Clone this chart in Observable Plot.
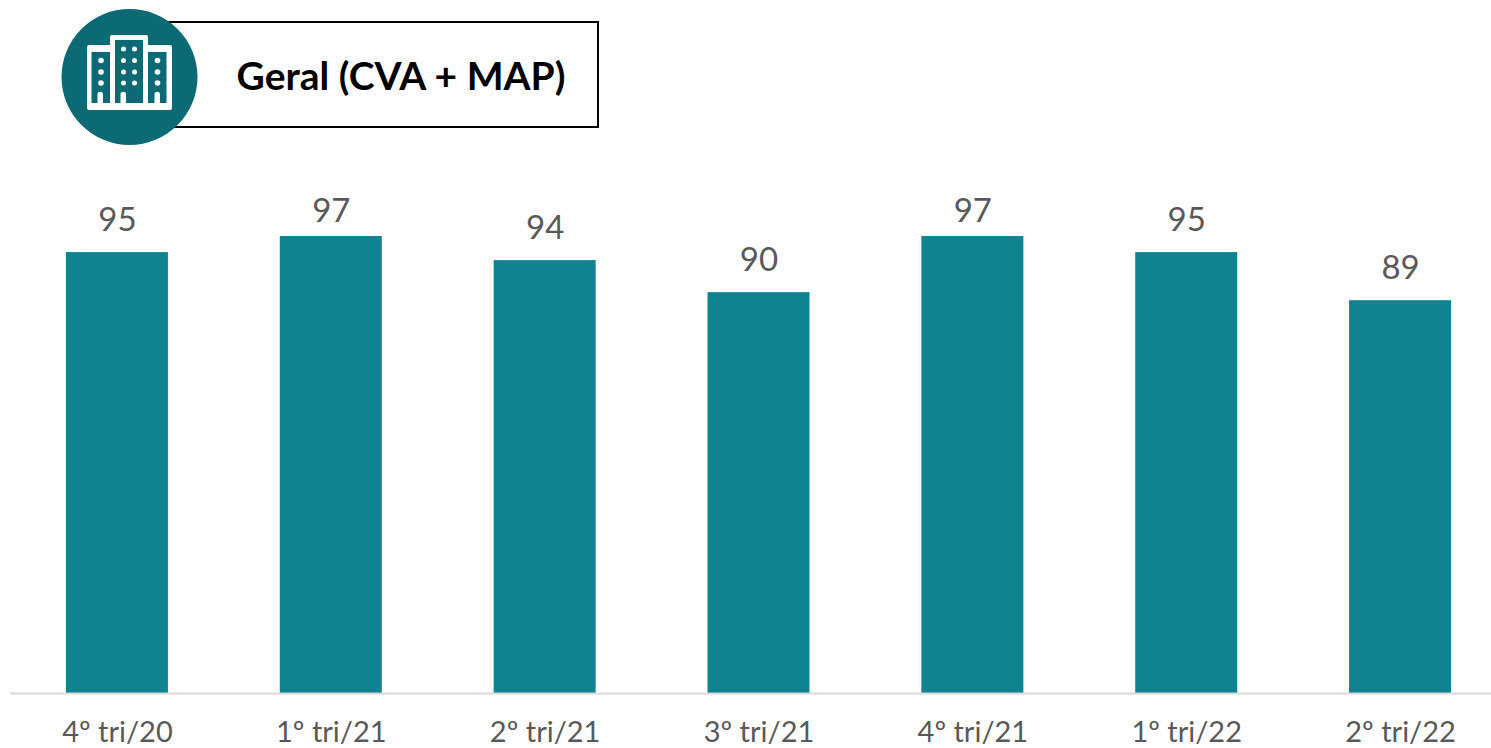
<!DOCTYPE html>
<html lang="pt">
<head>
<meta charset="utf-8">
<script src="https://cdn.jsdelivr.net/npm/d3@7"></script>
<script src="https://cdn.jsdelivr.net/npm/@observablehq/plot@0.6"></script>
<style>
  html, body { margin: 0; padding: 0; background: #fff; overflow: hidden; }
  #wrap { position: relative; width: 1491px; height: 748px; font-family: Lato, "Open Sans", sans-serif; }
  #wrap > svg { display: block; }
  #head { position: absolute; left: 0; top: 0; }
</style>
</head>
<body>
<div id="wrap">
  <div id="chart"></div>
  <svg id="head" width="620" height="150" viewBox="0 0 620 150">
    <rect x="130" y="22" width="468" height="105" fill="#fff" stroke="#000" stroke-width="2"/>
    <text x="401" y="90" text-anchor="middle" font-family="Lato, sans-serif" font-weight="700" font-size="39" fill="#000">Geral (CVA + MAP)</text>
    <circle cx="129.5" cy="77" r="68" fill="#0c6a75"/>
    <path fill="#fff" d="M89 45H110V37a2 2 0 0 1 2-2H146a2 2 0 0 1 2 2V45H170a2 2 0 0 1 2 2V108a2 2 0 0 1-2 2H89a2 2 0 0 1-2-2V47a2 2 0 0 1 2-2Z"/>
    <g fill="#0c6a75">
      <rect x="91.5" y="52" width="18.5" height="51"/>
      <rect x="115" y="40" width="28" height="63"/>
      <rect x="148" y="52" width="18.5" height="51"/>
    </g>
    <g fill="#fff">
      <path d="M97.5 103V94.5a2.75 2.75 0 0 1 5.5 0V103Z"/>
      <path d="M120.5 103V94.5a2.75 2.75 0 0 1 5.5 0V103Z"/>
      <path d="M154.5 103V94.5a2.75 2.75 0 0 1 5.5 0V103Z"/>
      <circle cx="101" cy="60.5" r="2.8"/><circle cx="101" cy="72" r="2.8"/><circle cx="101" cy="83" r="2.8"/>
      <circle cx="123.5" cy="49" r="2.5"/><circle cx="134.5" cy="49" r="2.5"/>
      <circle cx="123.5" cy="60.5" r="2.5"/><circle cx="134.5" cy="60.5" r="2.5"/>
      <circle cx="123.5" cy="72" r="2.5"/><circle cx="134.5" cy="72" r="2.5"/>
      <circle cx="123.5" cy="83" r="2.5"/><circle cx="134.5" cy="83" r="2.5"/>
      <circle cx="157.5" cy="60.5" r="2.8"/><circle cx="157.5" cy="72" r="2.8"/><circle cx="157.5" cy="83" r="2.8"/>
    </g>
  </svg>
</div>
<script>
const quarters = ["4º tri/20", "1º tri/21", "2º tri/21", "3º tri/21", "4º tri/21", "1º tri/22", "2º tri/22"];
const values = [95, 97, 94, 90, 97, 95, 89];
const rows = quarters.map((q, i) => ({quarter: q, value: values[i]}));
const peak = d3.max(values);
const labelStyle = {x: "quarter", y: "value", text: d => String(d.value), fontSize: 33, fill: "#595959", lineAnchor: "middle"};

const chart = Plot.plot({
  width: 1491,
  height: 748,
  marginTop: 212,
  marginBottom: 55,
  marginLeft: 10,
  marginRight: 0,
  style: {background: "#fff", fontFamily: "Lato, 'Open Sans', sans-serif", overflow: "visible"},
  x: {domain: quarters, range: [10, 1507], paddingInner: 0.523, paddingOuter: 0.2615, align: 0.5, round: false, label: null},
  y: {domain: [40, 100], axis: null, label: null},
  marks: [
    Plot.barY(rows, {x: "quarter", y1: 40, y2: "value", fill: "#0f838f"}),
    Plot.ruleY([40], {stroke: "#d9d9d9", strokeWidth: 2}),
    Plot.text(rows, {...labelStyle, filter: d => d.value < peak, dy: -32}),
    Plot.text(rows, {...labelStyle, filter: d => d.value === peak, dy: -25}),
    Plot.axisX({tickSize: 0, tickPadding: 28, fontSize: 29, fill: "#595959", label: null, anchor: "bottom"})
  ]
});
document.getElementById("chart").appendChild(chart);
</script>
</body>
</html>
